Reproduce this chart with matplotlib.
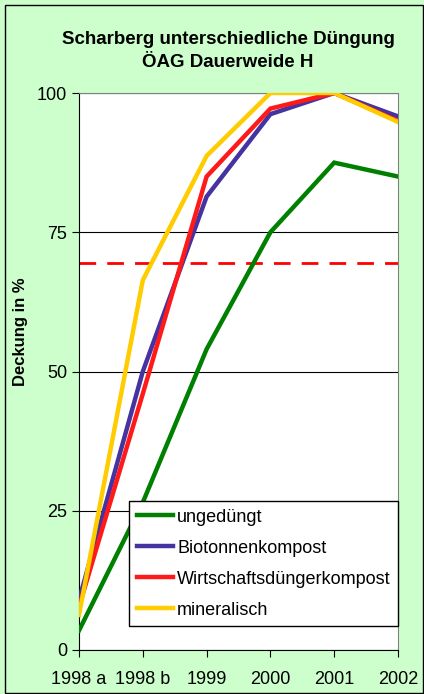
import matplotlib
matplotlib.use("Agg")
import matplotlib.pyplot as plt
from matplotlib.patches import Rectangle

plt.rcParams['font.family'] = ['Liberation Sans', 'DejaVu Sans']

categories = ['1998 a', '1998 b', '1999', '2000', '2001', '2002']
ungeduengt = [3.5, 26.5, 54, 75, 87.5, 85]
biotonne = [9, 50, 81.4, 96.2, 100, 95.8]
wirtschaft = [7.8, 46, 85, 97.2, 100, 95]
mineralisch = [6.3, 66.4, 88.7, 100, 100, 94.8]
threshold = 69.4

series = [
    ('ungedüngt', ungeduengt, '#008000'),
    ('Biotonnenkompost', biotonne, '#4433a0'),
    ('Wirtschaftsdüngerkompost', wirtschaft, '#ff1a1a'),
    ('mineralisch', mineralisch, '#ffcc00'),
]

fig = plt.figure(figsize=(4.24, 6.94), dpi=100)
fig.patch.set_facecolor('#ccffcc')
fig.patches.append(Rectangle((5 / 424, 1 / 694), 418 / 424, 688 / 694, transform=fig.transFigure,
                             fill=False, edgecolor='black', linewidth=1))

ax = fig.add_axes([79 / 424, 1 - 650 / 694, 319 / 424, 557 / 694])
ax.set_facecolor('white')

x = range(len(categories))
for label, vals, color in series:
    ax.plot(x, vals, color=color, linewidth=3.2, label=label, solid_joinstyle='miter', zorder=3)

ax.axhline(threshold, color='#ff0000', linewidth=2, dashes=(6, 4), zorder=2)

ax.set_xlim(0, len(categories) - 1)
ax.set_ylim(0, 100)
ax.set_yticks([0, 25, 50, 75, 100])
ax.set_xticks(list(x))
ax.set_xticklabels(categories)
ax.yaxis.grid(True, color='black', linewidth=0.8)
ax.set_axisbelow(True)
ax.tick_params(direction='out', length=5, labelsize=13, colors='black')
ax.tick_params(axis='x', pad=10)
for side in ['top', 'right']:
    ax.spines[side].set_color('#808080')
for side in ['left', 'bottom']:
    ax.spines[side].set_color('black')

ax.set_ylabel('Deckung in %', fontsize=12, fontweight='bold')
ax.yaxis.set_label_coords(-0.16, 0.571)
fig.text(228 / 424, 1 - 51 / 694, 'Scharberg unterschiedliche Düngung\nÖAG Dauerweide H',
         ha='center', va='center', fontsize=13.5, fontweight='bold', linespacing=1.45)

leg = ax.legend(loc='lower right', bbox_to_anchor=(1.0, 24 / 557), fontsize=13,
                frameon=True, fancybox=False, edgecolor='black', framealpha=1,
                handlelength=2.0, handletextpad=0.25, borderpad=0.4, labelspacing=0.78,
                borderaxespad=0)
leg.get_frame().set_linewidth(1)

fig.savefig('out.png', dpi=100, facecolor=fig.get_facecolor())
